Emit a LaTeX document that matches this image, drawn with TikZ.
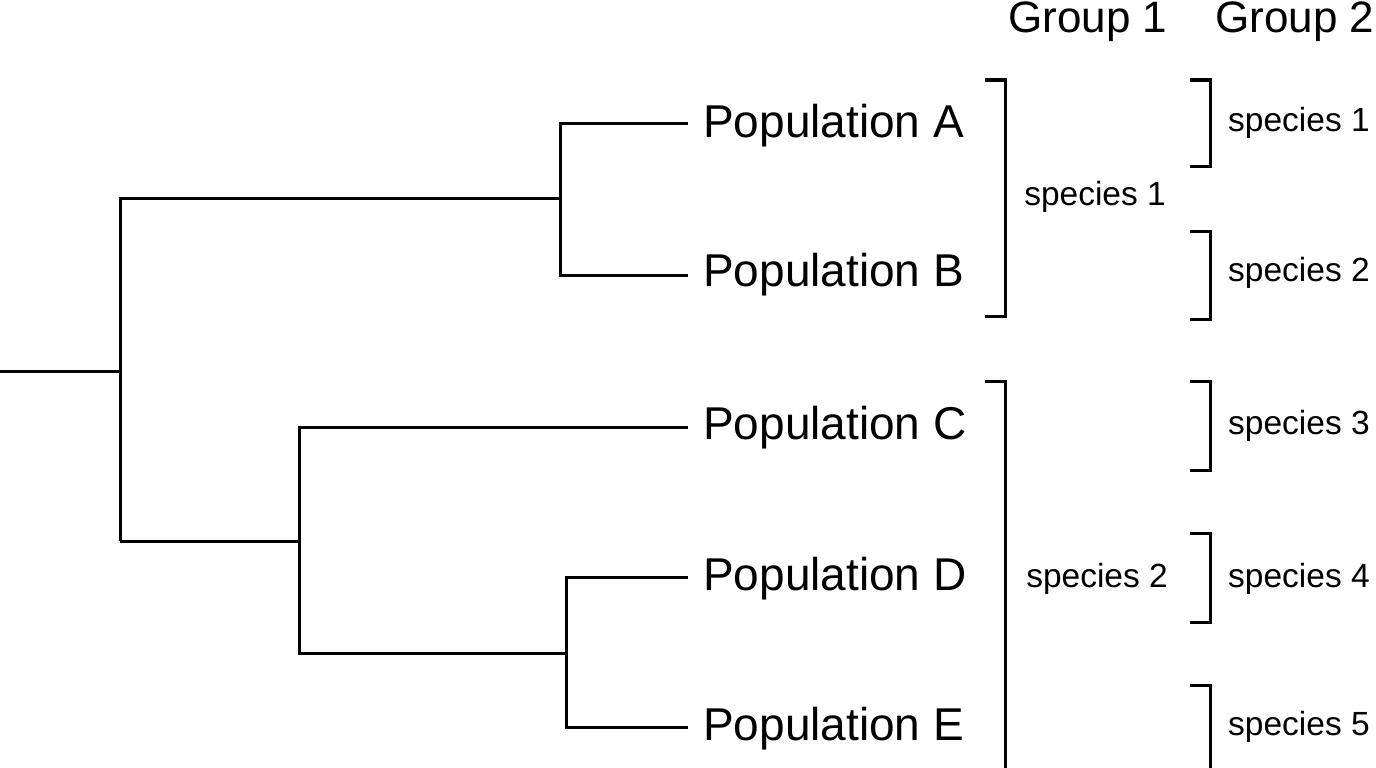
\documentclass[tikz,border=0pt]{standalone}
\usepackage{fontspec}
\setmainfont{Liberation Sans}
\begin{document}
\begin{tikzpicture}[x=1pt,y=-1pt,
  br/.style={line width=3pt},
  pop/.style={anchor=west,font=\fontsize{46}{50}\selectfont,inner sep=0pt},
  sp/.style={font=\fontsize{33.5}{36}\selectfont,inner sep=0pt},
  hd/.style={font=\fontsize{44}{48}\selectfont,inner sep=0pt}]
\useasboundingbox (0,0) rectangle (1376,768);
% tree
\coordinate (r) at (0,371);
\draw[br] (r) -- (120,371);
\draw[br] (120,541) -- (120,198) -- (560,198);
\draw[br] (688,123) -- (560,123) -- (560,275) -- (688,275);
\draw[br] (120,541) -- (299,541);
\draw[br] (688,427) -- (299,427) -- (299,653) -- (566,653);
\draw[br] (688,577) -- (566,577) -- (566,727) -- (688,727);
\node[pop] (A) at (703,126) {Population A};
\node[pop] (B) at (703,275) {Population B};
\node[pop] (C) at (703,428) {Population C};
\node[pop] (D) at (703,579) {Population D};
\node[pop] (E) at (703,729) {Population E};
% headers
\node[hd] (g1) at (1088,22) {Group 1};
\node[hd] (g2) at (1295,22) {Group 2};
% group 1 brackets
\draw[br] (985,80) -- (1005,80) -- (1005,316) -- (985,316);
\draw[br] (985,381) -- (1005,381) -- (1005,770) -- (985,770);
\node[sp] (s1) at (1095,197) {species 1};
\node[sp] (s2) at (1097,579) {species 2};
% group 2 brackets
\foreach \t/\b/\c/\n in {80/166/123/1, 231/319/273/2, 381/470/426/3, 533/622/579/4, 685/770/727/5}{
  \draw[br] (1190,\t) -- (1210,\t) -- (1210,\b) -- (1190,\b);
  \node[sp,anchor=west] (t\n) at (1228,\c) {species \n};
}
\end{tikzpicture}
\end{document}
